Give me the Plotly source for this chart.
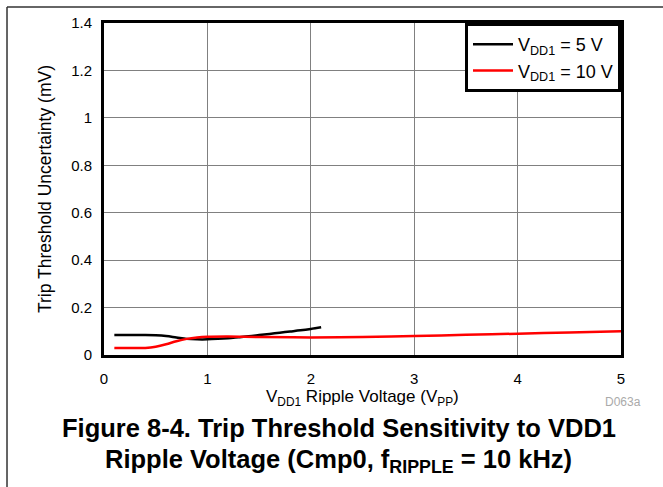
import plotly.graph_objects as go

# V_DD1 = 5 V
x_5v = [0.1, 0.25, 0.4, 0.5, 0.6, 0.7, 0.8, 0.9, 1.0, 1.1, 1.2, 1.3, 1.4, 1.5, 1.6, 1.7, 1.8, 1.9, 2.0, 2.1]
y_5v = [0.084, 0.084, 0.084, 0.083, 0.080, 0.074, 0.068, 0.066, 0.066, 0.068, 0.071, 0.075, 0.079, 0.084, 0.089, 0.094, 0.099, 0.104, 0.110, 0.117]

# V_DD1 = 10 V
x_10v = [0.1, 0.25, 0.4, 0.5, 0.6, 0.7, 0.8, 0.9, 1.0, 1.2, 1.5, 2.0, 2.5, 3.0, 3.5, 4.0, 4.5, 5.0]
y_10v = [0.030, 0.029, 0.030, 0.035, 0.045, 0.058, 0.068, 0.074, 0.077, 0.078, 0.076, 0.074, 0.076, 0.080, 0.085, 0.090, 0.095, 0.100]

x_ticks = [0, 1, 2, 3, 4, 5]
y_ticks = [0, 0.2, 0.4, 0.6, 0.8, 1, 1.2, 1.4]

FONT = "Arial, Liberation Sans, sans-serif"

fig = go.Figure()
fig.add_trace(go.Scatter(
    x=x_5v, y=y_5v, mode="lines", name="V<sub>DD1</sub> = 5 V",
    line=dict(color="#000000", width=2.5, shape="spline"),
))
fig.add_trace(go.Scatter(
    x=x_10v, y=y_10v, mode="lines", name="V<sub>DD1</sub> = 10 V",
    line=dict(color="#ff0000", width=2.5, shape="spline"),
))

# page frame (top and left rules)
fig.add_shape(type="line", xref="paper", yref="paper", x0=-0.1876, x1=1.09, y0=1.048, y1=1.048,
              line=dict(color="#333333", width=1.5))
fig.add_shape(type="line", xref="paper", yref="paper", x0=-0.1876, x1=-0.1876, y0=1.048, y1=-0.41,
              line=dict(color="#333333", width=1.5))

fig.add_annotation(text="V<sub>DD1</sub> Ripple Voltage (V<sub>PP</sub>)", xref="paper", yref="paper",
                   x=0.5, y=-0.1295, xanchor="center", yanchor="middle", showarrow=False,
                   font=dict(size=17, color="#000000", family=FONT))
fig.add_annotation(text="D063a", xref="paper", yref="paper", x=1.0426, y=-0.1407,
                   xanchor="right", yanchor="middle", showarrow=False,
                   font=dict(size=12, color="#aaaaaa", family=FONT))
fig.add_annotation(text="<b>Figure 8-4. Trip Threshold Sensitivity to VDD1</b>", xref="paper", yref="paper",
                   x=0.4545, y=-0.2199, xanchor="center", yanchor="middle", showarrow=False,
                   font=dict(size=25.5, color="#000000", family=FONT))
fig.add_annotation(text="<b>Ripple Voltage (Cmp0, f<sub>RIPPLE</sub> = 10 kHz)</b>", xref="paper", yref="paper",
                   x=0.4545, y=-0.3193, xanchor="center", yanchor="middle", showarrow=False,
                   font=dict(size=25.5, color="#000000", family=FONT))
fig.add_annotation(text="Trip Threshold Uncertainty (mV)", xref="paper", yref="paper",
                   x=-0.1141, y=0.5, xanchor="center", yanchor="middle", textangle=-90, showarrow=False,
                   font=dict(size=17.5, color="#000000", family=FONT))

fig.update_layout(
    width=663, height=487,
    paper_bgcolor="#ffffff",
    plot_bgcolor="#ffffff",
    font=dict(family=FONT, color="#000000", size=15),
    margin=dict(l=104, r=42, t=23, b=132),
    showlegend=True,
    legend=dict(
        x=1, y=1, xanchor="right", yanchor="top",
        bgcolor="#ffffff", bordercolor="#000000", borderwidth=3,
        font=dict(size=18, family=FONT),
        tracegroupgap=0, itemwidth=40,
    ),
    xaxis=dict(
        range=[0, 5], tickvals=x_ticks, ticktext=[str(v) for v in x_ticks],
        showgrid=True, gridcolor="#808080", gridwidth=1,
        showline=True, linecolor="#000000", linewidth=3, mirror=True,
        ticks="outside", ticklen=8, tickcolor="rgba(0,0,0,0)",
        tickfont=dict(size=15), zeroline=False,
    ),
    yaxis=dict(
        range=[0, 1.4], tickvals=y_ticks, ticktext=["0", "0.2", "0.4", "0.6", "0.8", "1", "1.2", "1.4"],
        showgrid=True, gridcolor="#808080", gridwidth=1,
        showline=True, linecolor="#000000", linewidth=3, mirror=True,
        ticks="outside", ticklen=6, tickcolor="rgba(0,0,0,0)",
        tickfont=dict(size=15), zeroline=False,
    ),
)

fig.write_html("out.html", config={"displayModeBar": False},
               post_script="document.body.style.margin='0px';")
